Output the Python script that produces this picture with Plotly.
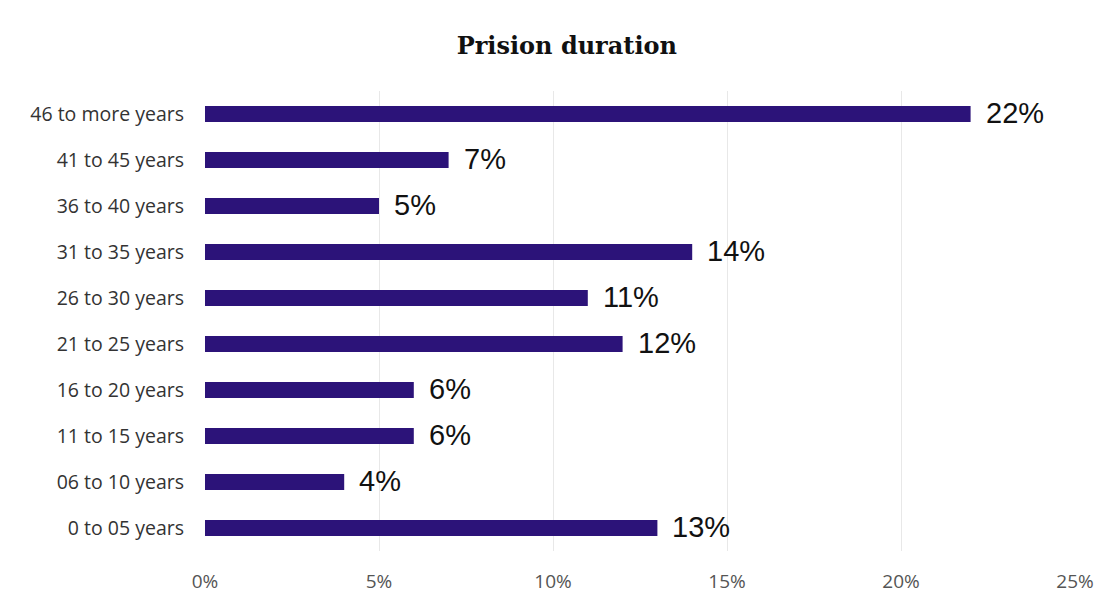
import plotly.graph_objects as go

categories = ["0 to 05 years", "06 to 10 years", "11 to 15 years", "16 to 20 years",
              "21 to 25 years", "26 to 30 years", "31 to 35 years", "36 to 40 years",
              "41 to 45 years", "46 to more years"]
values = [13, 4, 6, 6, 12, 11, 14, 5, 7, 22]
labels = ["13%", "4%", "6%", "6%", "12%", "11%", "14%", "5%", "7%", "22%"]
x_ticks = [0, 5, 10, 15, 20, 25]
x_tick_labels = ["0%", "5%", "10%", "15%", "20%", "25%"]

bar_color = "#2c1379"

fig = go.Figure()
fig.add_trace(go.Bar(
    y=categories, x=values, orientation="h",
    marker=dict(color=bar_color, line=dict(width=0)),
    hoverinfo="skip",
))

for c, v, t in zip(categories, values, labels):
    fig.add_annotation(x=v, y=c, text=t, showarrow=False, xanchor="left",
                       xshift=13, yshift=1,
                       font=dict(family="Liberation Sans, Arial", size=29, color="#111"))

fig.update_layout(
    width=1118, height=606,
    paper_bgcolor="white", plot_bgcolor="white",
    margin=dict(l=205, r=43, t=91, b=55),
    bargap=0.65,
    showlegend=False,
    title=dict(text="<b>Prision duration</b>", x=0.507, xanchor="center", y=0.925, yanchor="middle",
               font=dict(family="DejaVu Serif, Liberation Serif, serif", size=24, color="#111")),
    xaxis=dict(range=[0, 25], tickvals=x_ticks, ticktext=x_tick_labels,
               showgrid=True, gridcolor="#e8e8e8", gridwidth=1, zeroline=False,
               showline=False, ticks="", ticklen=0, ticklabelstandoff=17,
               tickfont=dict(family="Open Sans, Lato, sans-serif", size=19, color="#555"),
               fixedrange=True),
    yaxis=dict(categoryorder="array", categoryarray=categories,
               showgrid=False, zeroline=False, showline=False, ticks="",
               ticklabelstandoff=20,
               tickfont=dict(family="Open Sans, Lato, sans-serif", size=19.5, color="#333"),
               fixedrange=True),
)
fig.write_html("out.html")
